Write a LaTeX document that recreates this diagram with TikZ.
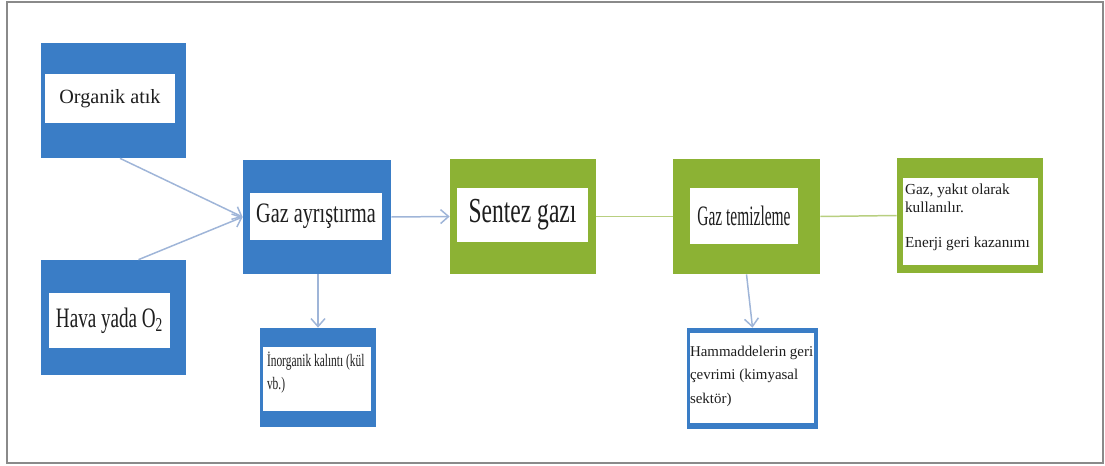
\documentclass[tikz,border=0pt]{standalone}
\usepackage{fontspec}
\setmainfont{Liberation Serif}
\usepackage{graphicx}
\usetikzlibrary{arrows.meta}
\definecolor{boxblue}{HTML}{3A7DC6}
\definecolor{boxgreen}{HTML}{8CB234}
\definecolor{arrowblue}{HTML}{9FB5D8}
\definecolor{linegreen}{HTML}{B8CF80}
\definecolor{framegray}{HTML}{8A8A8A}
\definecolor{textdark}{HTML}{1E1E1E}
\newcommand{\narrowtext}[2]{\scalebox{#1}[1]{#2}}
\tikzset{
    bluebox/.style={rectangle, fill=boxblue, inner sep=0pt},
    greenbox/.style={rectangle, fill=boxgreen, inner sep=0pt},
    whitebox/.style={rectangle, fill=white, inner sep=0pt, text=textdark},
    flowarrow/.style={-{Straight Barb[length=1.6mm,width=2.8mm]}, line width=0.85pt, draw=arrowblue},
    flowline/.style={line width=0.85pt, draw=linegreen}
}

\begin{document}
\begin{tikzpicture}[x=0.02cm, y=-0.02cm]
    \useasboundingbox (0,0) rectangle (1105,466);
    \draw[framegray, line width=1.1pt] (7,2) rectangle (1103,463);

    % Inputs
    \node[bluebox, minimum width=2.9cm, minimum height=2.3cm] (org) at (113.5,100.5) {};
    \node[whitebox, minimum width=2.6cm, minimum height=0.98cm, font=\fontsize{11.5}{14}\selectfont] (orgtxt) at (110,98.5) {Organik atık};
    \node[bluebox, minimum width=2.9cm, minimum height=2.3cm] (hava) at (113.5,317.5) {};
    \node[whitebox, minimum width=2.42cm, minimum height=1.1cm, font=\fontsize{16}{19}\selectfont] (havatxt) at (109.5,320.5) {\narrowtext{0.68}{Hava yada O\textsubscript{2}}};

    % Main line
    \node[bluebox, minimum width=2.96cm, minimum height=2.28cm] (ayr) at (317,217) {};
    \node[whitebox, minimum width=2.64cm, minimum height=0.94cm, font=\fontsize{16}{19}\selectfont] (ayrtxt) at (316,216.5) {\narrowtext{0.72}{Gaz ayrıştırma}};
    \node[greenbox, minimum width=2.92cm, minimum height=2.3cm] (sentez) at (523,216.5) {};
    \node[whitebox, minimum width=2.62cm, minimum height=1.08cm, font=\fontsize{20}{24}\selectfont] (senteztxt) at (522.5,215) {\narrowtext{0.67}{Sentez gazı}};
    \node[greenbox, minimum width=2.94cm, minimum height=2.3cm] (temiz) at (746.5,216.5) {};
    \node[whitebox, minimum width=2.16cm, minimum height=1.12cm, font=\fontsize{16}{19}\selectfont] (temiztxt) at (744,216) {\narrowtext{0.55}{Gaz temizleme}};
    \node[greenbox, minimum width=2.92cm, minimum height=2.3cm] (yakit) at (970,215.5) {};
    \node[whitebox, font=\fontsize{8.7}{10}\selectfont] (yakittxt) at (970.5,221.5)
        {\parbox[c][1.74cm][t]{2.7cm}{\vspace{0.12cm}\hspace*{0.04cm}Gaz, yakıt olarak\\\hspace*{0.04cm}kullanılır.\\[10pt]\hspace*{0.04cm}Enerji geri kazanımı}};

    % Outputs
    \node[bluebox, minimum width=2.32cm, minimum height=1.98cm] (inorg) at (318,377.5) {};
    \node[whitebox, font=\fontsize{10}{13}\selectfont] (inorgtxt) at (317,379)
        {\parbox[c][1.28cm][t]{2.16cm}{\vspace{0.1cm}\hspace*{0.08cm}\narrowtext{0.65}{İnorganik kalıntı (kül}\\\hspace*{0.08cm}\narrowtext{0.65}{vb.)}}};
    \node[bluebox, minimum width=2.62cm, minimum height=2.02cm] (hamm) at (752.5,378.5) {};
    \node[whitebox, font=\fontsize{8.5}{13.3}\selectfont] (hammtxt) at (752,378)
        {\parbox[c][1.8cm][t]{2.48cm}{\vspace{0.26cm}Hammaddelerin geri\\çevrimi (kimyasal\\sektör)}};

    % Connectors
    \draw[flowarrow] ([xshift=0.13cm]org.south) -- (ayr.west);
    \draw[flowarrow] ([xshift=0.5cm]hava.north) -- (ayr.west);
    \draw[flowarrow] (ayr.east) -- (sentez.west);
    \draw[flowline] (sentez.east) -- (temiz.west);
    \draw[flowline] (temiz.east) -- (yakit.west);
    \draw[flowarrow] ([xshift=0.02cm]ayr.south) -- (inorg.north);
    \draw[flowarrow] (temiz.south) -- (hamm.north);
\end{tikzpicture}
\end{document}
